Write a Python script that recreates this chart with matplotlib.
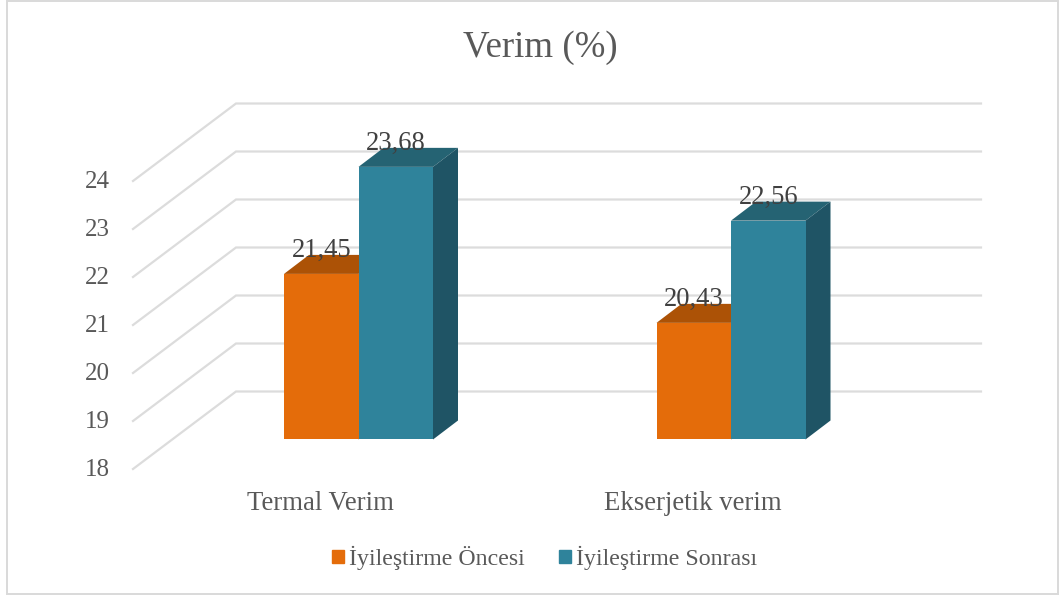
import matplotlib
matplotlib.use("Agg")
import matplotlib.pyplot as plt
from matplotlib.patches import Rectangle

plt.rcParams['font.family'] = ['Liberation Serif', 'DejaVu Serif']

categories = ['Termal Verim', 'Ekserjetik verim']
series_names = ['İyileştirme Öncesi', 'İyileştirme Sonrası']
before = [21.45, 20.43]
after = [23.68, 22.56]
value_labels_before = ['21,45', '20,43']
value_labels_after = ['23,68', '22,56']
y_ticks = [18, 19, 20, 21, 22, 23, 24]

W, H = 1064, 596
fig = plt.figure(figsize=(W / 100, H / 100), dpi=100)
ax = fig.add_axes([0, 0, 1, 1])
ax.axis('off')

# scale of the chart in pixels, axes fills the whole figure
px_x = 372.5   # pixels per category
px_y = 48.0    # pixels per y unit
x0_px = 358.5  # centre of first category
y0_px = 439.5  # where value 18 sits on the bar plane
ax.set_xlim(-x0_px / px_x, (W - x0_px) / px_x)
ax.set_ylim(18 - (H - y0_px) / px_y, 18 + y0_px / px_y)

dx = lambda p: p / px_x
dy = lambda p: p / px_y

bar_w = dx(74.5)
depth_x = dx(25)
depth_y = dy(19)

# 3d walls: gridlines on back wall and floor/side wall going forward
back_x = dx(236 - x0_px)
right_x = dx(981 - x0_px)
front_x = dx(133 - x0_px)
grid_c = '#dcdcdc'
for t in y_ticks:
    back_y = t + 1
    ax.plot([front_x, back_x, right_x], [back_y - dy(77.5), back_y, back_y],
            color=grid_c, lw=1.6, solid_joinstyle='miter', zorder=1)
    ax.text(front_x - dx(23), back_y - dy(77.5) - dy(1), str(t), ha='right', va='center',
            fontsize=18, color='#595959')


def draw_bar(x, val, front, top, side):
    ax.fill([x, x + bar_w, x + bar_w + depth_x, x + depth_x],
            [val, val, val + depth_y, val + depth_y], color=top, lw=0, zorder=3)
    ax.fill([x + bar_w, x + bar_w + depth_x, x + bar_w + depth_x, x + bar_w],
            [18, 18 + depth_y, val + depth_y, val], color=side, lw=0, zorder=3)
    ax.fill([x, x + bar_w, x + bar_w, x], [18, 18, val, val], color=front, lw=0, zorder=4)


orange = ('#e46c0a', '#ac5206', '#ac5206')
teal = ('#2f839b', '#256373', '#1f5465')
for i in range(len(categories)):
    draw_bar(i - bar_w, before[i], *orange)
    draw_bar(i, after[i], *teal)
    ax.text(i - bar_w / 2, before[i] + dy(23.5), value_labels_before[i], ha='center', va='center',
            fontsize=19.2, color='#404040', zorder=6)
    ax.text(i + bar_w / 2, after[i] + dy(23), value_labels_after[i], ha='center', va='center',
            fontsize=19.2, color='#404040', zorder=6)
    ax.text(i - dx(38), 18 - dy(64.5), categories[i], ha='center', va='center',
            fontsize=19.3, color='#595959')

ax.text(dx(540 - x0_px), 18 + dy(439.5 - 48), 'Verim (%)', ha='center', va='center',
        fontsize=26.6, color='#595959')

# legend
handles = [Rectangle((0, 0), 1, 1, color=orange[0]), Rectangle((0, 0), 1, 1, color=teal[0])]
fig.legend(handles, series_names, loc='center', bbox_to_anchor=(544.5 / W, 1 - 558 / H), ncol=2,
           frameon=False, fontsize=17.2, labelcolor='#595959', handlelength=0.5, handleheight=0.45,
           handletextpad=0.2, columnspacing=1.46, borderpad=0, borderaxespad=0)

# chart border
fig.add_artist(Rectangle((6.7 / W, 1 - 594 / H), 1051 / W, 593.3 / H, transform=fig.transFigure,
                         fill=False, edgecolor='#d9d9d9', lw=1.4))

fig.savefig('out.png', dpi=100)
